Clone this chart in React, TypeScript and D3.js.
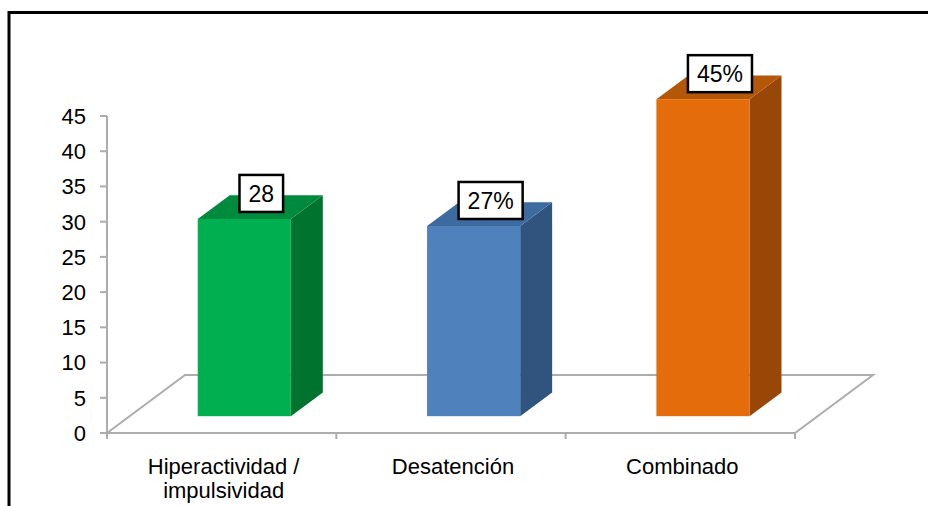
import React, { useEffect, useRef } from "react";
import * as d3 from "d3";

const categories = ["Hiperactividad /\nimpulsividad", "Desatención", "Combinado"];
const values = [28, 27, 45];
const valueLabels = ["28", "27%", "45%"];
const yTicks = [0, 5, 10, 15, 20, 25, 30, 35, 40, 45];
const frontColors = ["#00B050", "#4F81BD", "#E46C0A"];
const topColors = ["#008A3E", "#3D6A9F", "#B45808"];
const sideColors = ["#00742F", "#30547D", "#984707"];

const W = 928;
const H = 506;

export default function App() {
  const ref = useRef<SVGSVGElement | null>(null);

  useEffect(() => {
    const svg = d3.select(ref.current);
    svg.selectAll("*").remove();

    const x0 = 107, x1 = 795, yBase = 433, yTop = 116;
    const DX = 78, DY = 58;
    const dFront = 0.29, dBack = 0.7;

    const x = d3.scaleBand<string>().domain(categories).range([x0, x1]).padding(0);
    const y = d3.scaleLinear().domain([0, 45]).range([yBase, yTop]);
    const bw = x.bandwidth() * 0.406;
    const font = "Arial, 'Liberation Sans', sans-serif";
    const grid = "#ADADAD";

    // outer border
    svg.append("rect")
      .attr("x", 9).attr("y", 12.5).attr("width", 1000).attr("height", 600)
      .attr("fill", "white").attr("stroke", "#000").attr("stroke-width", 3);

    // floor
    const floor = [
      [x0, yBase], [x0 + DX, yBase - DY], [x1 + DX, yBase - DY], [x1, yBase],
    ];
    svg.append("path")
      .attr("d", "M" + floor.map((p) => p.join(",")).join("L") + "Z")
      .attr("fill", "none").attr("stroke", grid).attr("stroke-width", 2);

    // y axis
    svg.append("line")
      .attr("x1", x0).attr("x2", x0).attr("y1", y(45)).attr("y2", yBase)
      .attr("stroke", grid).attr("stroke-width", 2);
    const yt = svg.append("g");
    yTicks.forEach((t) => {
      yt.append("line")
        .attr("x1", x0 - 7).attr("x2", x0).attr("y1", y(t)).attr("y2", y(t))
        .attr("stroke", grid).attr("stroke-width", 2);
      yt.append("text")
        .attr("x", 86).attr("y", y(t)).attr("dy", "0.36em")
        .attr("text-anchor", "end").attr("font-family", font).attr("font-size", 22)
        .attr("fill", "#000").text(String(t));
    });

    // x ticks
    const bounds = [x0, ...categories.map((c) => (x(c) as number) + x.bandwidth())];
    bounds.forEach((b) => {
      svg.append("line")
        .attr("x1", b).attr("x2", b).attr("y1", yBase).attr("y2", yBase + 6)
        .attr("stroke", grid).attr("stroke-width", 2);
    });

    // category labels
    categories.forEach((c) => {
      const cx = (x(c) as number) + x.bandwidth() / 2;
      const lines = c.split("\n");
      const t = svg.append("text")
        .attr("text-anchor", "middle").attr("font-family", font).attr("font-size", 22)
        .attr("fill", "#000");
      lines.forEach((ln, i) => {
        t.append("tspan").attr("x", cx + 2).attr("y", 474 + i * 24).text(ln);
      });
    });

    // bars
    categories.forEach((c, i) => {
      const fx = (x(c) as number) + (x.bandwidth() - bw) / 2 + dFront * DX;
      const fb = yBase - dFront * DY;
      const ft = y(values[i]) - dFront * DY;
      const ddx = (dBack - dFront) * DX;
      const ddy = (dBack - dFront) * DY;
      const g = svg.append("g");
      g.append("path")
        .attr("d", `M${fx + bw},${fb}L${fx + bw + ddx},${fb - ddy}L${fx + bw + ddx},${ft - ddy}L${fx + bw},${ft}Z`)
        .attr("fill", sideColors[i]);
      g.append("path")
        .attr("d", `M${fx},${ft}L${fx + ddx},${ft - ddy}L${fx + bw + ddx},${ft - ddy}L${fx + bw},${ft}Z`)
        .attr("fill", topColors[i]);
      g.append("rect")
        .attr("x", fx).attr("y", ft).attr("width", bw).attr("height", fb - ft)
        .attr("fill", frontColors[i]);

      // value label
      const lx = fx + bw / 2 + 17;
      const lb = ft - 7;
      const lg = svg.append("g");
      const rect = lg.append("rect").attr("fill", "#fff").attr("stroke", "#000").attr("stroke-width", 2.5);
      const txt = lg.append("text")
        .attr("x", lx).attr("y", lb - 10)
        .attr("text-anchor", "middle").attr("font-family", font).attr("font-size", 23)
        .attr("fill", "#000").text(valueLabels[i]);
      const tw = (txt.node() as SVGTextElement).getComputedTextLength();
      const bwid = tw + 18;
      rect.attr("x", lx - bwid / 2).attr("y", lb - 37).attr("width", bwid).attr("height", 37);
    });
  }, []);

  return (
    <svg
      ref={ref}
      width={W}
      height={H}
      style={{ position: "absolute", left: 0, top: 0, display: "block", background: "#fff" }}
    />
  );
}
